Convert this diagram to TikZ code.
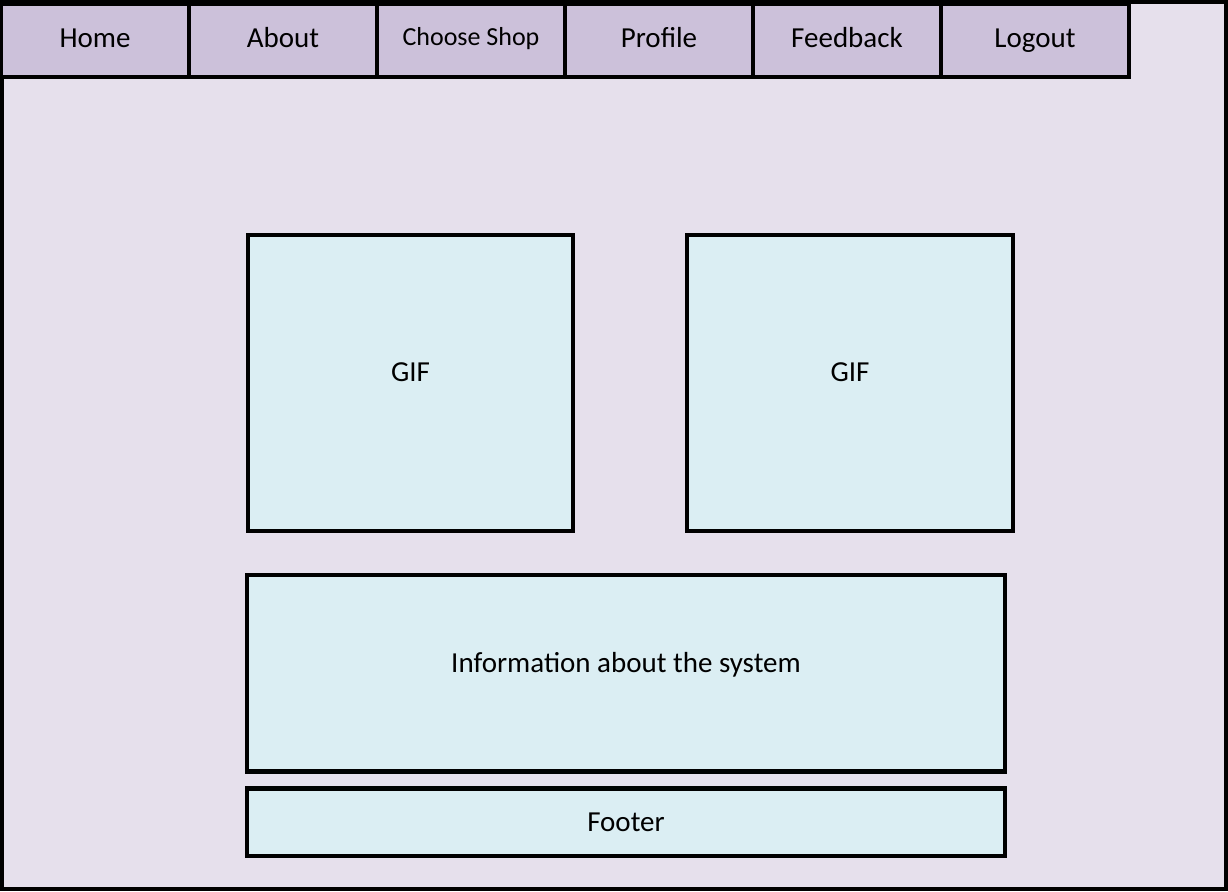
\documentclass[tikz,border=0pt]{standalone}
\usepackage{fontspec}
\setmainfont{Carlito}
\definecolor{pagebg}{HTML}{E6E0EC}
\definecolor{tabfill}{HTML}{CCC1DA}
\definecolor{boxfill}{HTML}{DBEEF3}
\tikzset{
  navtab/.style={draw=black, fill=tabfill, line width=4.5pt, inner sep=0pt,
    minimum width=188pt, minimum height=72.5pt, text height=20pt, text depth=6pt,
    font=\fontsize{29}{32}\selectfont},
  panel/.style={draw=black, fill=boxfill, line width=4.5pt, inner sep=0pt,
    font=\fontsize{29}{32}\selectfont},
}
\begin{document}
\begin{tikzpicture}[x=1pt,y=-1pt]
\useasboundingbox (0,0) rectangle (1228,891);
\draw[line width=4pt, fill=pagebg] (2,2.5) rectangle (1225.5,889); % page frame
% menu bar
\foreach \name/\txt [count=\i] in {home/Home, about/About,
    shop/{\fontsize{26}{28}\selectfont\raisebox{2pt}{Choose Shop}}, profile/Profile,
    feedback/Feedback, logout/Logout}
  \node[navtab] (\name) at (1+188*\i-94, 40.5) {\txt};
% content
\node[panel, minimum width=325pt, minimum height=296pt] (gifleft) at (410.5,383) {\raisebox{21pt}{GIF}};
\node[panel, minimum width=326pt, minimum height=296pt] (gifright) at (850,383) {\raisebox{21pt}{GIF}};
\node[panel, minimum width=758pt, minimum height=196.5pt] (info) at (626,673.25) {\raisebox{21pt}{Information about the system}};
\node[panel, minimum width=758pt, minimum height=67.5pt] (footer) at (626,822.25) {Footer};
\end{tikzpicture}
\end{document}
